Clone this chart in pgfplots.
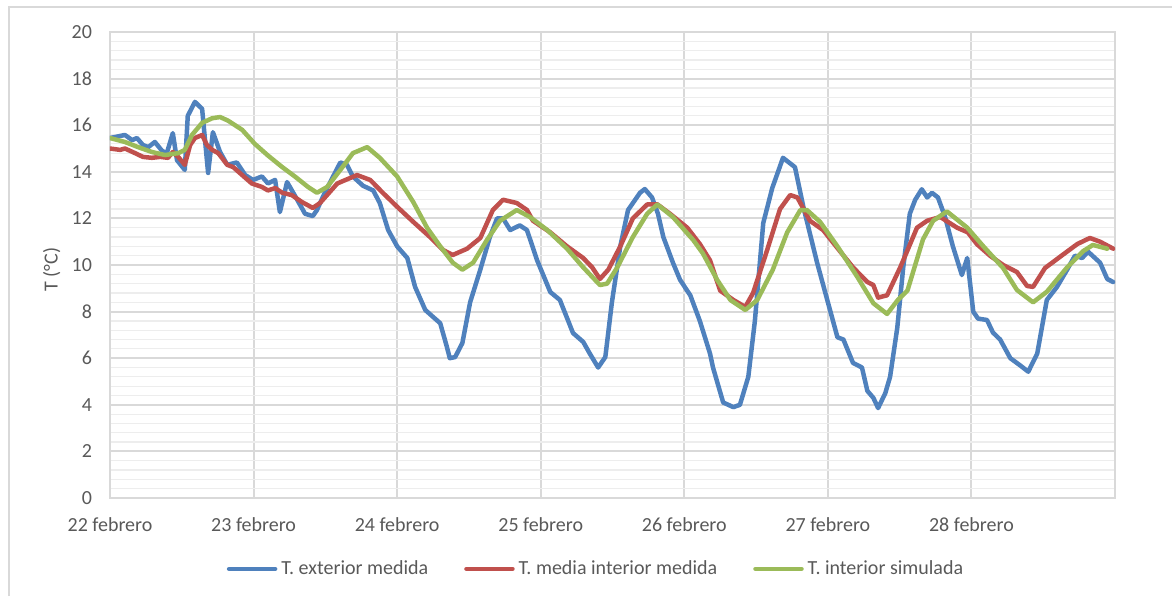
\documentclass[border=0pt]{standalone}
\usepackage{fontspec}
\setmainfont{Carlito}
\usepackage{pgfplots}
\pgfplotsset{compat=1.18}
\definecolor{cblue}{HTML}{4F81BD}
\definecolor{cred}{HTML}{C0504D}
\definecolor{cgreen}{HTML}{9BBB59}
\definecolor{gridc}{HTML}{D9D9D9}
\definecolor{mgridc}{HTML}{EDEDED}
\definecolor{txt}{HTML}{595959}
\begin{document}
\begin{tikzpicture}
\path[use as bounding box] (0pt,0pt) rectangle (586pt,298pt);
\draw[gridc, line width=0.8pt] (4.5pt,0pt) -- (4.5pt,294.5pt) -- (586pt,294.5pt);
\begin{axis}[
 at={(55pt,49pt)}, anchor=south west, scale only axis,
 width=502.5pt, height=233pt,
 xmin=0, xmax=168, ymin=0, ymax=20,
 xtick={0,24,...,144},
 xticklabels={22 febrero,23 febrero,24 febrero,25 febrero,26 febrero,27 febrero,28 febrero},
 ytick={0,2,...,20}, minor y tick num=4,
 xmajorgrids, ymajorgrids, yminorgrids,
 major grid style={gridc, line width=1pt},
 minor grid style={mgridc, line width=0.6pt},
 axis line style={gridc, line width=1pt},
 major tick length=0pt, minor tick length=0pt,
 tick label style={font=\fontsize{10}{12}\selectfont, text=txt},
 /pgf/number format/assume math mode=true,
 yticklabel style={xshift=-5.5pt},
 xticklabel style={yshift=-6.5pt},
 ylabel={T (°C)},
 ylabel style={at={(axis description cs:-0.058,0.49)}, anchor=center, font=\fontsize{10}{12}\selectfont, text=txt},
 legend style={at={(0.4846,-0.152)}, anchor=center, draw=none, fill=none, legend columns=3,
   font=\fontsize{10}{12}\selectfont, text=txt,
   /tikz/every even column/.append style={column sep=16pt}},
 legend image code/.code={\draw[#1] (0pt,0pt) -- (23pt,0pt);},
 every axis plot/.append style={line width=2.25pt, line join=round, line cap=round},
]
\addplot[cblue] table {
0 15.45
2.5 15.58
3.7 15.36
4.5 15.45
5.5 15.15
6.4 15.06
7.5 15.28
8.7 14.9
9.5 14.8
10.5 15.66
11.2 14.5
12.5 14.08
13.0 16.4
14.2 17.0
15.4 16.7
16.4 13.95
17.2 15.7
18.4 14.85
19.6 14.3
21.2 14.4
22.6 13.86
23.9 13.65
25.4 13.8
26.4 13.5
27.6 13.65
28.4 12.27
29.6 13.56
31.3 12.8
32.6 12.2
33.9 12.1
34.6 12.36
35.9 13.1
37.3 13.8
38.5 14.4
39.6 14.3
40.6 13.8
42.3 13.4
44.0 13.2
45.1 12.66
46.5 11.5
48.0 10.8
49.7 10.3
51.0 9.06
52.7 8.07
55.2 7.5
56.3 6.5
56.8 6.0
57.7 6.05
58.9 6.65
60.2 8.4
61.9 9.8
63.5 11.2
64.7 12.0
65.7 12.0
66.9 11.5
68.5 11.7
69.7 11.5
71.4 10.2
73.6 8.84
75.2 8.5
77.4 7.08
79.1 6.7
80.2 6.2
81.6 5.6
82.8 6.05
83.9 8.4
85.3 10.8
86.6 12.36
88.6 13.1
89.4 13.26
90.6 12.9
91.6 12.2
92.5 11.2
94.1 10.1
95.3 9.36
97.0 8.7
98.6 7.6
100.3 6.2
100.8 5.6
102.5 4.1
104.2 3.9
105.3 4.0
106.7 5.2
107.8 7.6
109.2 11.8
110.7 13.3
112.5 14.6
114.5 14.2
115.9 12.5
118.2 10.1
119.9 8.5
121.6 6.9
122.6 6.8
124.2 5.8
125.7 5.6
126.6 4.6
127.6 4.3
128.4 3.86
129.6 4.5
130.4 5.2
131.6 7.3
132.6 9.9
133.7 12.2
134.6 12.8
135.7 13.25
136.6 12.9
137.4 13.1
138.4 12.9
139.6 12.06
140.9 10.8
142.4 9.57
143.3 10.3
144.3 8.0
145.1 7.7
146.6 7.64
147.6 7.1
148.8 6.8
150.5 6.0
152.1 5.7
153.5 5.42
155.0 6.2
156.6 8.5
158.3 9.06
160.0 9.8
161.3 10.4
162.5 10.3
163.5 10.57
165.5 10.1
166.7 9.4
167.7 9.27
};
\addlegendentry{T. exterior medida}
\addplot[cred] table {
0 15.0
1.7 14.94
2.5 15.0
4.2 14.8
5.5 14.64
7.0 14.6
8.4 14.64
9.7 14.6
10.5 14.85
11.4 14.64
12.5 14.3
13.4 15.15
14.2 15.45
15.4 15.58
16.2 15.15
17.1 14.94
18.1 14.8
19.6 14.3
20.6 14.2
22.1 13.86
23.7 13.5
25.4 13.35
26.4 13.2
27.6 13.3
28.8 13.1
30.4 13.0
32.1 12.7
33.9 12.45
35.1 12.66
38.0 13.5
41.3 13.86
43.5 13.65
45.6 13.1
48.0 12.5
50.7 11.85
53.5 11.2
55.7 10.64
57.3 10.43
59.7 10.7
61.9 11.16
64.0 12.36
65.7 12.8
68.0 12.66
69.7 12.36
70.7 11.9
73.6 11.4
76.4 10.8
79.1 10.3
80.6 9.9
81.9 9.4
83.3 9.8
85.3 10.8
87.4 12.0
89.8 12.6
91.5 12.6
93.6 12.2
96.5 11.6
98.6 10.9
100.3 10.2
102.0 8.9
104.2 8.5
106.2 8.2
107.5 8.8
109.8 10.6
112.0 12.4
113.7 13.0
114.9 12.9
117.0 11.9
119.2 11.5
122.0 10.6
124.2 9.9
126.6 9.27
127.6 9.14
128.4 8.6
129.9 8.7
132.1 9.9
132.6 10.2
134.9 11.6
136.6 11.9
138.8 12.06
141.6 11.6
143.4 11.4
144.9 10.9
147.1 10.4
149.3 10.0
151.6 9.7
153.3 9.1
154.3 9.06
156.3 9.87
158.8 10.35
161.7 10.9
163.8 11.16
165.5 11.0
167.7 10.7
};
\addlegendentry{T. media interior medida}
\addplot[cgreen] table {
0 15.45
2.5 15.28
4.7 15.06
7.0 14.85
9.2 14.72
11.4 14.8
12.5 14.94
13.7 15.58
15.4 16.1
17.1 16.3
18.4 16.35
19.7 16.2
22.1 15.8
24.2 15.2
26.4 14.7
28.8 14.2
30.9 13.8
33.1 13.35
34.6 13.1
36.3 13.35
38.5 14.08
40.6 14.8
43.0 15.06
45.1 14.6
48.0 13.8
50.7 12.7
53.0 11.6
55.2 10.8
57.3 10.1
58.9 9.8
60.7 10.1
63.0 11.07
65.2 11.9
68.0 12.36
70.2 12.06
73.1 11.5
76.4 10.7
79.1 9.9
81.9 9.14
83.1 9.2
84.8 9.9
87.4 11.2
89.8 12.2
91.5 12.6
94.1 12.06
97.5 11.07
99.1 10.5
101.5 9.36
103.7 8.5
106.2 8.07
108.2 8.5
110.8 9.8
113.2 11.4
115.4 12.36
116.5 12.36
118.7 11.85
121.6 10.8
124.9 9.5
127.6 8.36
129.9 7.9
131.7 8.5
133.3 8.9
135.9 11.1
137.6 11.9
139.9 12.3
143.3 11.6
146.0 10.8
149.3 9.87
151.6 8.93
154.3 8.4
156.6 8.85
160.0 9.9
162.7 10.6
164.3 10.86
166.7 10.7
};
\addlegendentry{T. interior simulada}
\end{axis}
\end{tikzpicture}
\end{document}
